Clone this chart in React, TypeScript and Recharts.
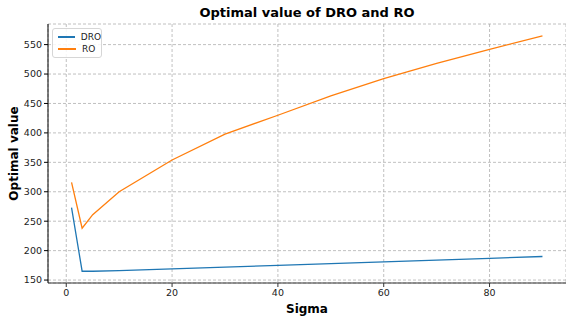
import { LineChart, Line, XAxis, YAxis, CartesianGrid } from "recharts"

const sigma = [1, 3, 5, 10, 20, 30, 40, 50, 60, 70, 80, 90]
const droValues = [273, 165, 165, 166, 169, 172, 175, 178, 181, 184, 187, 190]
const roValues = [316, 238, 261, 300, 354, 398, 430, 463, 492, 518, 542, 565]
const xTicks = [0, 20, 40, 60, 80]
const yTicks = [150, 200, 250, 300, 350, 400, 450, 500, 550]

const data = sigma.map((s, i) => ({ sigma: s, DRO: droValues[i], RO: roValues[i] }))

const FONT = "'DejaVu Sans', sans-serif"
const BLUE = "#1f77b4"
const ORANGE = "#ff7f0e"

function LegendBox() {
  const items = [
    { name: "DRO", color: BLUE },
    { name: "RO", color: ORANGE },
  ]
  return (
    <div
      style={{
        position: "absolute",
        left: 52,
        top: 28,
        width: 50,
        height: 30,
        boxSizing: "border-box",
        background: "rgba(255,255,255,0.85)",
        border: "1px solid #d6d6d6",
        borderRadius: 3,
        padding: "2px 0 0 5px",
        fontFamily: FONT,
        fontSize: 9,
        color: "#222",
        lineHeight: "12px",
        zIndex: 2,
      }}
    >
      {items.map((it) => (
        <div key={it.name} style={{ display: "flex", alignItems: "center", whiteSpace: "nowrap" }}>
          <span style={{ display: "inline-block", width: 18, height: 1.5, background: it.color, marginRight: 6 }} />
          <span>{it.name}</span>
        </div>
      ))}
    </div>
  )
}

export default function App() {
  return (
    <div style={{ position: "absolute", left: 0, top: 0, width: 566, height: 316, background: "#fff" }}>
      <div
        style={{
          position: "absolute",
          top: 5,
          left: 48,
          width: 518,
          textAlign: "center",
          fontFamily: FONT,
          fontWeight: "bold",
          fontSize: 13,
          color: "#000",
        }}
      >
        Optimal value of DRO and RO
      </div>
      <LineChart width={566} height={316} data={data} margin={{ top: 24, right: 0, bottom: 0, left: 0 }}>
        <CartesianGrid strokeDasharray="3 2" stroke="#b0b0b0" strokeWidth={0.8} />
        <XAxis
          dataKey="sigma"
          type="number"
          domain={[-3.45, 94.45]}
          ticks={xTicks}
          allowDataOverflow
          height={33}
          tickSize={4}
          tickMargin={2}
          stroke="#333"
          tick={{ fill: "#222", fontSize: 9.5, fontFamily: FONT }}
          label={{
            value: "Sigma",
            position: "insideBottom",
            offset: 3,
            style: { fill: "#000", fontSize: 12, fontWeight: "bold", fontFamily: FONT },
          }}
        />
        <YAxis
          type="number"
          domain={[145, 585]}
          ticks={yTicks}
          allowDataOverflow
          width={48}
          tickSize={4}
          tickMargin={2}
          stroke="#000"
          tick={{ fill: "#222", fontSize: 9.5, fontFamily: FONT }}
          label={{
            value: "Optimal value",
            angle: -90,
            position: "insideLeft",
            offset: 14,
            style: { fill: "#000", fontSize: 12, fontWeight: "bold", fontFamily: FONT, textAnchor: "middle" },
          }}
        />
        <Line dataKey="DRO" stroke={BLUE} strokeWidth={1.3} dot={false} isAnimationActive={false} />
        <Line dataKey="RO" stroke={ORANGE} strokeWidth={1.3} dot={false} isAnimationActive={false} />
      </LineChart>
      <LegendBox />
    </div>
  )
}
